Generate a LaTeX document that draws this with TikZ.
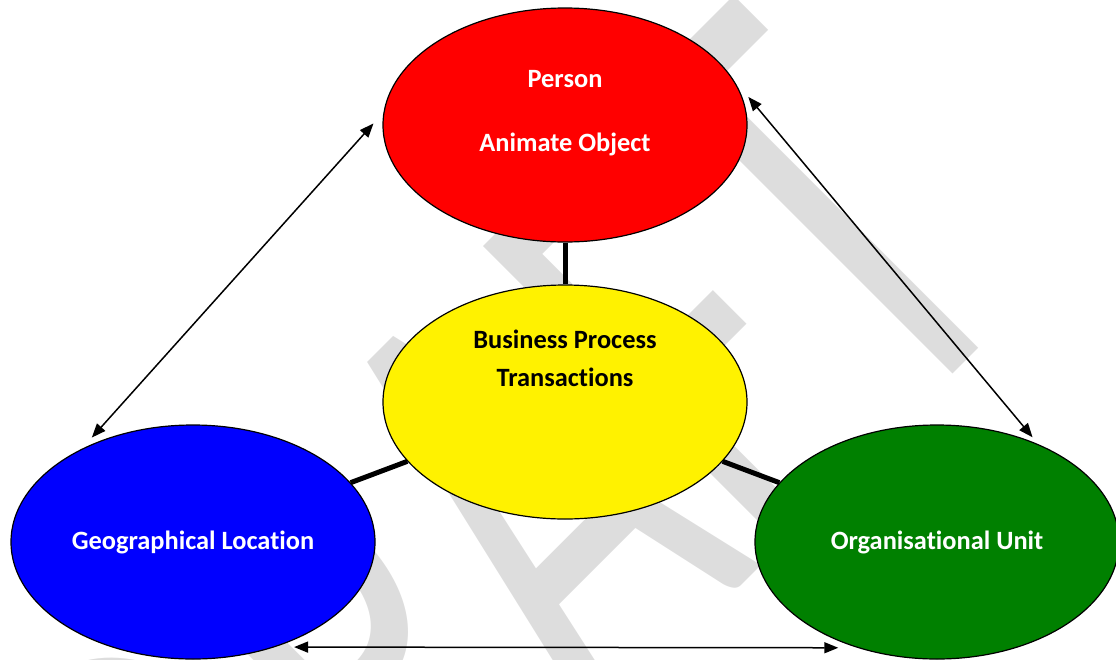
\documentclass[tikz,border=0pt]{standalone}
\usepackage{fontspec}
\setmainfont{Carlito}[Ligatures={NoCommon}]
\newfontfamily\wmfont[FakeStretch=0.62]{Carlito}
\usetikzlibrary{shapes.geometric,arrows.meta}

\definecolor{wmgray}{RGB}{221,221,221}
\definecolor{orggreen}{RGB}{0,128,0}

\begin{document}
\begin{tikzpicture}[x=1pt,y=-1pt]
	\tikzset{
		blob/.style={ellipse,draw=black,line width=1.2pt,minimum width=364pt,minimum height=234pt,inner sep=0pt,font=\fontsize{26.4}{31}\selectfont\bfseries,align=center},
		lbl/.style={inner sep=0pt,font=\fontsize{26.4}{31}\selectfont\bfseries,align=center},
		link/.style={draw,line width=5pt},
		twoway/.style={draw,line width=1.5pt,<->,>={Triangle[length=14pt,width=11pt]}},
		wmark/.style={text=wmgray,inner sep=0pt,font=\wmfont\fontsize{658}{658}\selectfont,rotate=45,anchor=base east}
	}
	\useasboundingbox (0,0) rectangle (1116,659);
	\begin{scope}
		\clip (0,0) rectangle (1116,659);
		\node[wmark] (wm) at (1036,291) {DRAFT};
	\end{scope}
	\node[blob,fill=red] (person) at (565,125) {};
	\node[blob,fill=yellow] (biz) at (565,402) {};
	\node[blob,fill=blue,text=white] (geo) at (193,542) {Geographical Location};
	\node[blob,fill=orggreen,text=white] (org) at (937,542) {Organisational Unit};
	\node[lbl,text=white] (persontxt) at (565,113) {Person\\[33pt]Animate Object};
	\node[lbl] (biztxt) at (565,358) {Business Process\\[7pt]Transactions};
	\draw[link] (person) -- (biz);
	\draw[link] (biz) -- (geo);
	\draw[link] (biz) -- (org);
	\draw[twoway,shorten <=15pt,shorten >=15pt] (person.176) -- (geo.140);
	\draw[twoway,shorten >=9pt] ([xshift=6pt]person.9) -- (org.44);
	\draw[twoway,shorten <=19pt,shorten >=19pt] (geo.-52.6) -- (org.-127.4);
\end{tikzpicture}
\end{document}
